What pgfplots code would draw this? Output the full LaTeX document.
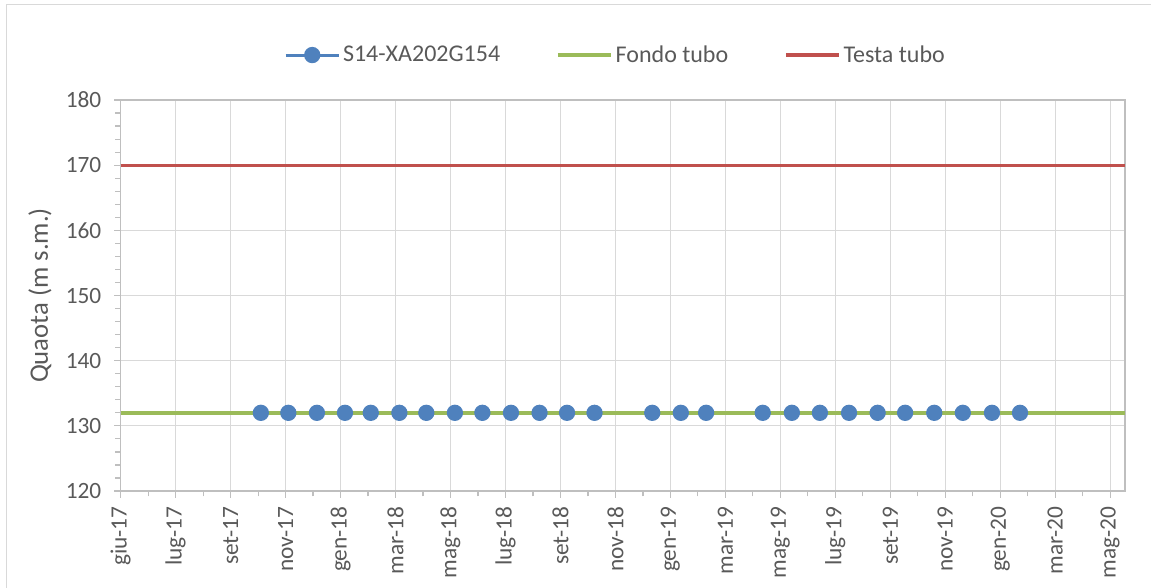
\documentclass[border=0pt]{standalone}
\usepackage{fontspec}
\setmainfont{Carlito}
\usepackage{pgfplots}
\pgfplotsset{compat=1.18}
\definecolor{serie}{HTML}{4F81BD}
\definecolor{fondo}{HTML}{9BBB59}
\definecolor{testa}{HTML}{C0504D}
\definecolor{testo}{HTML}{595959}
\definecolor{griglia}{HTML}{D9D9D9}
\definecolor{asse}{HTML}{BFBFBF}

\begin{document}
\begin{tikzpicture}
\useasboundingbox (-90.5pt,-72pt) rectangle (772.7pt,368.25pt);
\draw[griglia,line width=1.2pt] (-85.6pt,-80pt) -- (-85.6pt,364.9pt) -- (780pt,364.9pt);
\begin{axis}[at={(0,0)},anchor=south west,scale only axis,
 width=753.2pt,height=293.25pt,
 xmin=0,xmax=18.27,ymin=120,ymax=180,
 xtick={0,...,18},minor x tick num=1,
 xticklabels={giu-17,lug-17,set-17,nov-17,gen-18,mar-18,mag-18,lug-18,set-18,nov-18,gen-19,mar-19,mag-19,lug-19,set-19,nov-19,gen-20,mar-20,mag-20},
 ytick={120,130,...,180},minor y tick num=4,
 grid=major,major grid style={griglia,line width=0.9pt},
 axis line style={asse,line width=0.9pt},
 tick align=outside,major tick length=5pt,minor tick length=4pt,
 tick style={asse,line width=0.9pt},
 xtick pos=bottom,ytick pos=left,
 /pgf/number format/assume math mode=true,
 ticklabel style={font=\fontsize{17.5}{20}\selectfont,text=testo},
 xticklabel style={rotate=90,anchor=east,xshift=-3pt},
 yticklabel style={xshift=-6pt},
 ylabel={Quaota (m s.m.)},
 ylabel style={at={(axis description cs:-0.0803,0.5)},anchor=center,rotate=0,
   font=\fontsize{20}{24}\selectfont,text=testo},
 legend columns=3,
 legend style={at={(rel axis cs:0.493,1.115)},anchor=center,draw=none,fill=none,
   font=\fontsize{18}{20}\selectfont,text=testo,
   /tikz/every even column/.append style={column sep=40pt}},
 legend image code/.code={\draw[mark repeat=2,mark phase=2,#1] plot coordinates {(0pt,0pt) (20pt,0pt) (40pt,0pt)};},
]
\addplot[serie,line width=2.2pt,mark=*,mark size=5pt,mark options={serie,solid}] coordinates {
 (2.55,132)(3.05,132)(3.57,132)(4.08,132)(4.55,132)(5.07,132)(5.56,132)(6.08,132)
 (6.58,132)(7.10,132)(7.62,132)(8.12,132)(8.62,132)(9.67,132)(10.19,132)(10.65,132)
 (11.68,132)(12.21,132)(12.72,132)(13.25,132)(13.77,132)(14.27,132)(14.80,132)
 (15.32,132)(15.85,132)(16.36,132)};
\addplot[fondo,line width=2.6pt] coordinates {(0,132)(18.27,132)};
\addplot[testa,line width=2.5pt] coordinates {(0,170)(18.27,170)};
\legend{S14-XA202G154,Fondo tubo,Testa tubo}
\end{axis}
\end{tikzpicture}
\end{document}
